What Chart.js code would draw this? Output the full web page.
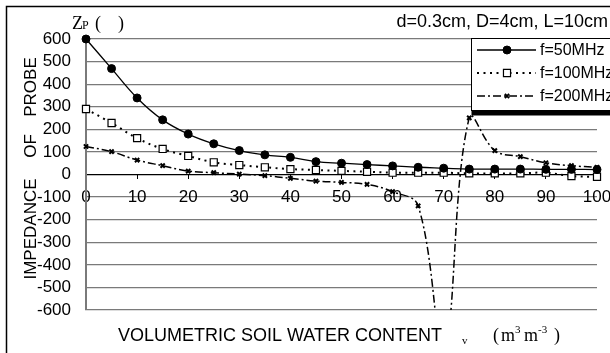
<!DOCTYPE html>
<html>
<head>
<meta charset="utf-8">
<title>Impedance of probe</title>
<script src="https://cdn.jsdelivr.net/npm/chart.js@4.4.1/dist/chart.umd.min.js"></script>
<style>
    html, body { margin: 0; padding: 0; background: #fff; }
    #wrap { width: 610px; height: 353px; }
</style>
</head>
<body>
<div id="wrap"><canvas id="chart" width="610" height="353"></canvas></div>
<script>
// Volumetric soil water content (%), read every 5 units
const waterContent = [0, 5, 10, 15, 20, 25, 30, 35, 40, 45, 50, 55, 60, 65, 70, 75, 80, 85, 90, 95, 100];

// Impedance of probe for each frequency
const z50MHz  = [600, 469, 339, 242, 179, 136, 106, 87, 76, 57, 50, 44, 38, 32, 28, 24, 24, 24, 23, 23, 22];
const z100MHz = [290, 228, 161, 113, 82, 54, 42, 32, 24, 20, 16, 12, 8, 8, 8, 5, 5, 5, 8, -7, -10];
const z200MHz = [124, 101, 64, 39, 15, 8, 2, -5, -17, -29, -35, -44, -76, -139, -780, 251, 106, 79, 52, 39, 32];

const seriesNames = ['f=50MHz', 'f=100MHz', 'f=200MHz'];
const yTicks = [600, 500, 400, 300, 200, 100, 0, -100, -200, -300, -400, -500, -600];
const xTicks = [0, 10, 20, 30, 40, 50, 60, 70, 80, 90, 100];
const noteText = 'd=0.3cm, D=4cm, L=10cm';

const SANS = "'Liberation Sans', Arial, sans-serif";
const SERIF = "'Liberation Serif', 'Times New Roman', serif";

function toPoints(values) {
    return waterContent.map((x, i) => ({ x: x, y: values[i] }));
}

// Text and legend box drawn on top of the chart
const decorations = {
    id: 'decorations',
    afterDraw(chart) {
        const ctx = chart.ctx;
        ctx.save();

        // outer frame (left and top edges are visible)
        ctx.strokeStyle = '#000';
        ctx.lineWidth = 1.5;
        ctx.beginPath();
        ctx.moveTo(6.5, 360);
        ctx.lineTo(6.5, 6.5);
        ctx.lineTo(620, 6.5);
        ctx.stroke();

        // note at top right
        ctx.fillStyle = '#000';
        ctx.font = '18px ' + SANS;
        ctx.textAlign = 'right';
        ctx.textBaseline = 'middle';
        ctx.fillText(noteText, 608, 22);

        // Zp ( ) unit label
        ctx.textAlign = 'left';
        ctx.textBaseline = 'alphabetic';
        ctx.font = '18px ' + SERIF;
        ctx.fillText('Z', 72, 29);
        ctx.font = '12px ' + SERIF;
        ctx.fillText('P', 82, 29);
        ctx.font = '18px ' + SERIF;
        ctx.fillText('(', 95, 29);
        ctx.fillText(')', 118, 29);

        // y axis title, rotated
        ctx.save();
        ctx.translate(31, 171);
        ctx.rotate(-Math.PI / 2);
        ctx.font = '17px ' + SANS;
        ctx.textAlign = 'center';
        ctx.textBaseline = 'middle';
        ctx.fillText('IMPEDANCE', -58, 0);
        ctx.fillText('OF', 25, 0);
        ctx.fillText('PROBE', 84, 0);
        ctx.restore();

        // x axis title
        ctx.textBaseline = 'alphabetic';
        ctx.font = '18px ' + SANS;
        ctx.fillText('VOLUMETRIC SOIL WATER CONTENT', 118, 341);
        ctx.font = '11px ' + SERIF;
        ctx.fillText('v', 462, 344);
        ctx.font = '18px ' + SERIF;
        ctx.fillText('(', 493, 341);
        ctx.fillText('m', 501, 341);
        ctx.fillText('m', 524, 341);
        ctx.fillText(')', 554, 341);
        ctx.font = '11px ' + SERIF;
        ctx.fillText('3', 515, 333);
        ctx.fillText('-3', 538, 333);

        // legend box with shadow
        const lx = 471.5, ly = 38.5, lw = 160, lh = 72;
        ctx.fillStyle = '#000';
        ctx.fillRect(lx, ly + lh, lw, 5);
        ctx.fillStyle = '#fff';
        ctx.fillRect(lx, ly, lw, lh);
        ctx.strokeStyle = '#000';
        ctx.lineWidth = 1;
        ctx.strokeRect(lx, ly, lw, lh);

        const rowY = [50, 73, 96];
        chart.data.datasets.forEach((ds, i) => {
            const y = rowY[i];
            ctx.save();
            ctx.strokeStyle = ds.borderColor;
            ctx.lineWidth = ds.borderWidth;
            ctx.setLineDash(ds.borderDash || []);
            ctx.beginPath();
            ctx.moveTo(477, y);
            ctx.lineTo(536, y);
            ctx.stroke();
            ctx.setLineDash([]);
            ctx.fillStyle = ds.pointBackgroundColor;
            ctx.strokeStyle = ds.pointBorderColor;
            ctx.lineWidth = ds.pointBorderWidth;
            Chart.helpers.drawPoint(ctx, {
                pointStyle: ds.pointStyle,
                radius: ds.pointRadius,
                rotation: 0,
                borderWidth: ds.pointBorderWidth
            }, 507, y);
            ctx.restore();
            ctx.fillStyle = '#000';
            ctx.font = '16px ' + SANS;
            ctx.textAlign = 'left';
            ctx.textBaseline = 'middle';
            ctx.fillText(seriesNames[i], 540, y + 1);
        });

        ctx.restore();
    }
};

const ctx = document.getElementById('chart');

new Chart(ctx, {
    type: 'line',
    data: {
        datasets: [
            {
                label: seriesNames[0],
                data: toPoints(z50MHz),
                borderColor: '#000',
                borderWidth: 1.3,
                pointStyle: 'circle',
                pointRadius: 4,
                pointBackgroundColor: '#000',
                pointBorderColor: '#000',
                pointBorderWidth: 1,
                tension: 0.4
            },
            {
                label: seriesNames[1],
                data: toPoints(z100MHz),
                borderColor: '#000',
                borderWidth: 2,
                borderDash: [2, 4.5],
                pointStyle: 'rect',
                pointRadius: 5,
                pointBackgroundColor: '#fff',
                pointBorderColor: '#000',
                pointBorderWidth: 1.2,
                tension: 0.4
            },
            {
                label: seriesNames[2],
                data: toPoints(z200MHz),
                borderColor: '#000',
                borderWidth: 1.5,
                borderDash: [8, 3, 2, 3],
                pointStyle: 'crossRot',
                pointRadius: 3,
                pointBackgroundColor: '#000',
                pointBorderColor: '#000',
                pointBorderWidth: 2,
                tension: 0.4
            }
        ]
    },
    options: {
        responsive: false,
        animation: false,
        clip: { left: 10, top: 10, right: 10, bottom: 0 },
        layout: { padding: { left: 0, top: 39, right: 13, bottom: 43 } },
        plugins: {
            legend: { display: false },
            tooltip: { enabled: false }
        },
        scales: {
            x: {
                type: 'linear',
                min: 0,
                max: 100,
                position: { y: 0 },
                afterBuildTicks(scale) {
                    scale.ticks = xTicks.map(v => ({ value: v }));
                },
                afterFit(scale) {
                    scale.paddingLeft = 0;
                    scale.paddingRight = 0;
                },
                grid: {
                    drawOnChartArea: false,
                    drawTicks: true,
                    tickLength: 4,
                    color: '#000'
                },
                border: { display: true, color: '#000', width: 1 },
                ticks: {
                    autoSkip: false,
                    maxRotation: 0,
                    padding: 9,
                    color: '#000',
                    font: { family: SANS, size: 17 }
                }
            },
            y: {
                type: 'linear',
                min: -600,
                max: 600,
                afterBuildTicks(scale) {
                    scale.ticks = yTicks.map(v => ({ value: v }));
                },
                afterFit(scale) {
                    scale.width = 86;
                    scale.paddingTop = 0;
                    scale.paddingBottom = 0;
                },
                grid: {
                    drawTicks: false,
                    color: ctx => (ctx.tick && ctx.tick.value === 0) ? '#000' : '#7a7a7a',
                    lineWidth: 1.2
                },
                border: { display: true, color: '#7a7a7a', width: 2 },
                ticks: {
                    autoSkip: false,
                    padding: 15,
                    color: '#000',
                    font: { family: SANS, size: 17 }
                }
            }
        }
    },
    plugins: [decorations]
});
</script>
</body>
</html>
